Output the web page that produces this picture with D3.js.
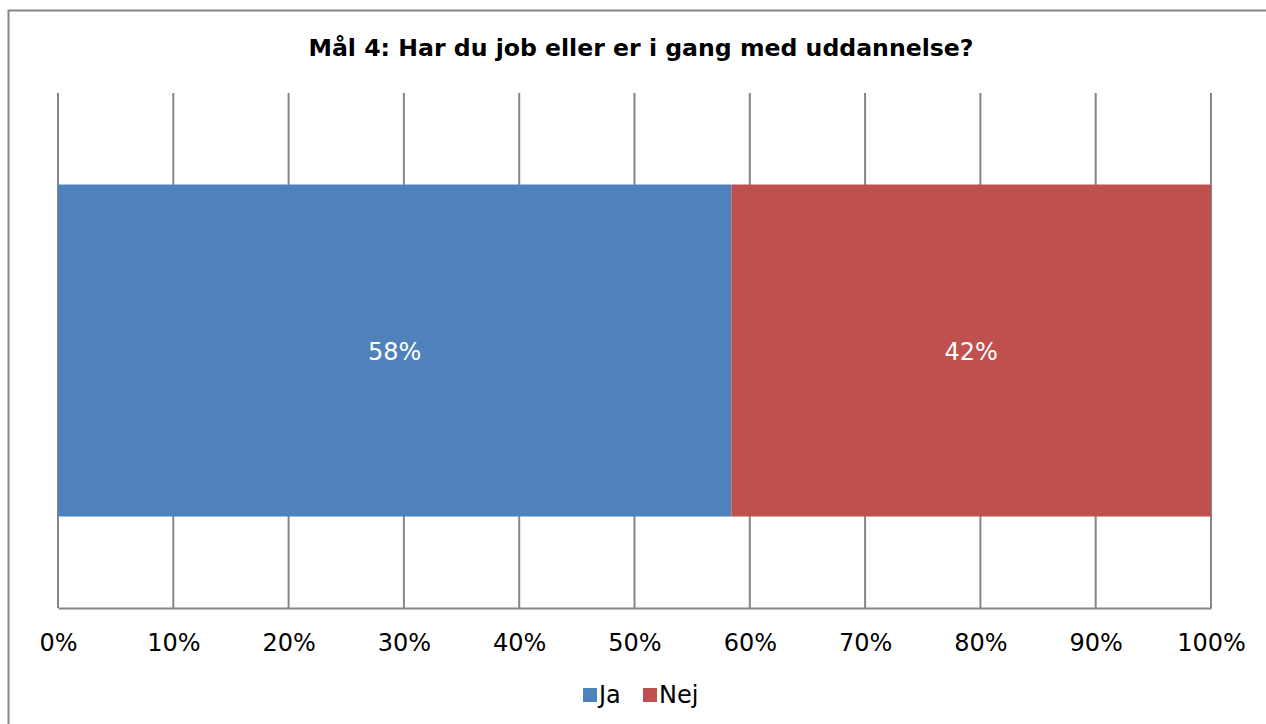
<!DOCTYPE html>
<html><head><meta charset="utf-8">
<script src="https://cdn.jsdelivr.net/npm/d3@7"></script>
<style>body{margin:0;background:#fff}svg{display:block}</style>
</head><body>
<svg id="c" width="1266" height="724"></svg>
<script>
const title = "Mål 4: Har du job eller er i gang med uddannelse?";
const series = ["Ja", "Nej"];
const values = [58.4, 41.6];
const labels = ["58%", "42%"];
const colors = ["#4F81BD", "#C0504D"];
const ticks = [0,10,20,30,40,50,60,70,80,90,100];

const svg = d3.select("#c");
const font = "Verdana, 'DejaVu Sans', sans-serif";
svg.append("rect").attr("x",8.5).attr("y",10.5).attr("width",1300).attr("height",800)
  .attr("fill","#fff").attr("stroke","#868686").attr("stroke-width",2);

const x = d3.scaleLinear().domain([0,100]).range([58,1211]);
const y0 = 93, y1 = 608;
const y = d3.scaleBand().domain(["a"]).range([y0,y1]).paddingInner(0).paddingOuter(0.2756);

svg.append("text").attr("x",641).attr("y",56).attr("text-anchor","middle")
  .attr("font-family",font).attr("font-weight","bold").attr("font-size",23.6).text(title);

// gridlines
svg.append("g").selectAll("line").data(ticks).join("line")
  .attr("x1",d=>x(d)).attr("x2",d=>x(d)).attr("y1",y0).attr("y2",y1)
  .attr("stroke","#868686").attr("stroke-width",2);

// bars
let cum = 0;
const segs = values.map((v,i)=>{const s={i,start:cum,end:cum+v}; cum+=v; return s;});
svg.append("g").selectAll("rect").data(segs).join("rect")
  .attr("x",d=>x(d.start)).attr("width",d=>x(d.end)-x(d.start))
  .attr("y",y("a")).attr("height",y.bandwidth()).attr("fill",d=>colors[d.i]);
svg.append("g").selectAll("text").data(segs).join("text")
  .attr("x",d=>(x(d.start)+x(d.end))/2).attr("y",y("a")+y.bandwidth()/2+9)
  .attr("text-anchor","middle").attr("fill","#fff").attr("font-family",font).attr("font-size",24)
  .text(d=>labels[d.i]);

// axis
const ax = svg.append("g").attr("transform",`translate(0,${y1})`)
  .call(d3.axisBottom(x).tickValues(ticks).tickSize(0).tickPadding(26).tickFormat(d=>d+"%"));
ax.select(".domain").attr("stroke","#868686").attr("stroke-width",2);
ax.selectAll("text").attr("font-family",font).attr("font-size",24).attr("fill","#000");

// legend
const lg = svg.append("g");
const items = [{n:series[0],c:colors[0],x:583},{n:series[1],c:colors[1],x:643}];
lg.selectAll("rect").data(items).join("rect").attr("x",d=>d.x).attr("y",688).attr("width",14).attr("height",14).attr("fill",d=>d.c);
lg.selectAll("text").data(items).join("text").attr("x",d=>d.x+16).attr("y",703)
  .attr("font-family",font).attr("font-size",24).text(d=>d.n);
</script>
</body></html>
